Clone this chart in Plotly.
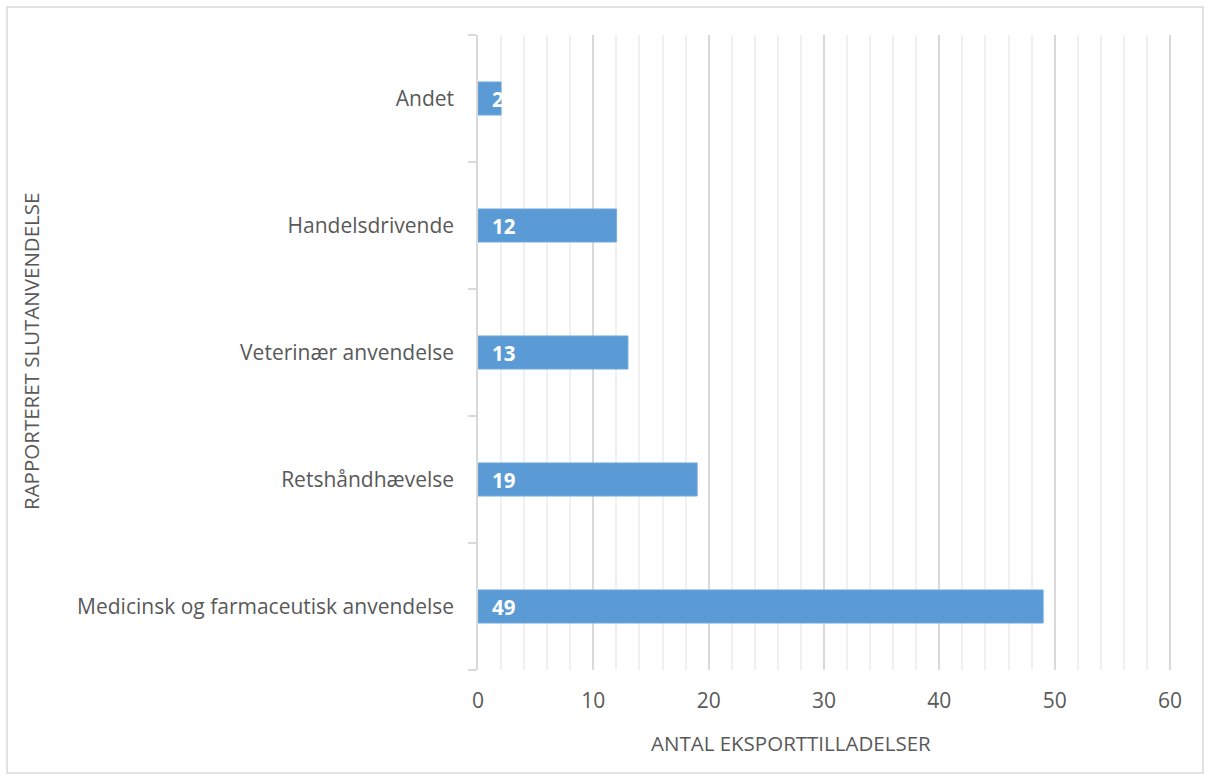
import plotly.graph_objects as go

categories = ["Medicinsk og farmaceutisk anvendelse", "Retshåndhævelse",
              "Veterinær anvendelse", "Handelsdrivende", "Andet"]
values = [49, 19, 13, 12, 2]
x_title = "ANTAL EKSPORTTILLADELSER"
y_title = "RAPPORTERET SLUTANVENDELSE"

W, H = 1210, 780
L, R, T, B = 478, 1174, 35, 670
px_per_unit = (1170 - 478) / 60
x_max = (R - L) / px_per_unit
font_family = "Open Sans, Lato, sans-serif"
txt_color = "#595959"

fig = go.Figure(go.Bar(
    x=values, y=categories, orientation="h",
    marker=dict(color="#5B9BD5", line=dict(color="#6FA8DC", width=1)),
    hoverinfo="skip",
))

annotations = []
for c, v in zip(categories, values):
    annotations.append(dict(
        x=0, y=c, xref="x", yref="y", text=f"<b>{v}</b>", showarrow=False,
        xanchor="left", xshift=12, font=dict(color="white", size=20.5, family=font_family),
    ))

pw, ph = R - L, B - T
annotations.append(dict(
    x=(791 - L) / pw, y=(B - 743) / ph, xref="paper", yref="paper", text=x_title,
    showarrow=False, xanchor="center", yanchor="middle",
    font=dict(size=20.5, color=txt_color, family=font_family),
))
annotations.append(dict(
    x=(31 - L) / pw, y=(B - 352) / ph, xref="paper", yref="paper", text=y_title,
    showarrow=False, textangle=-90, xanchor="center", yanchor="middle",
    font=dict(size=20.5, color=txt_color, family=font_family),
))

fig.update_layout(
    width=W, height=H,
    margin=dict(l=L, r=W - R, t=T, b=H - B, pad=0),
    paper_bgcolor="white", plot_bgcolor="white",
    bargap=0.74,
    showlegend=False,
    font=dict(family=font_family, color=txt_color, size=20.5),
    annotations=annotations,
    shapes=[dict(
        type="rect", xref="paper", yref="paper",
        x0=(7 - L) / pw, x1=(1203 - L) / pw, y0=(B - 773) / ph, y1=(B - 7) / ph,
        line=dict(color="#d9d9d9", width=1.5), fillcolor="rgba(0,0,0,0)", layer="below",
    )],
)
fig.update_xaxes(
    range=[0, x_max], dtick=10, tick0=0,
    showgrid=True, gridcolor="#d9d9d9", gridwidth=1.5,
    minor=dict(dtick=2, showgrid=True, gridcolor="#f0f0f0", gridwidth=1.5),
    zeroline=False, showline=False, ticks="",
    tickfont=dict(size=21, color=txt_color),
    ticklabelstandoff=16,
    fixedrange=True,
)
fig.update_yaxes(
    type="category", tickson="boundaries",
    ticks="outside", ticklen=8, tickcolor="#d9d9d9", tickwidth=1.5,
    showline=True, linecolor="#d9d9d9", linewidth=1.5,
    showgrid=False, zeroline=False,
    tickfont=dict(size=21, color=txt_color),
    ticklabelstandoff=18,
    fixedrange=True,
)

fig.write_html("out.html", config={"displayModeBar": False},
               post_script="document.body.style.margin='0';")
